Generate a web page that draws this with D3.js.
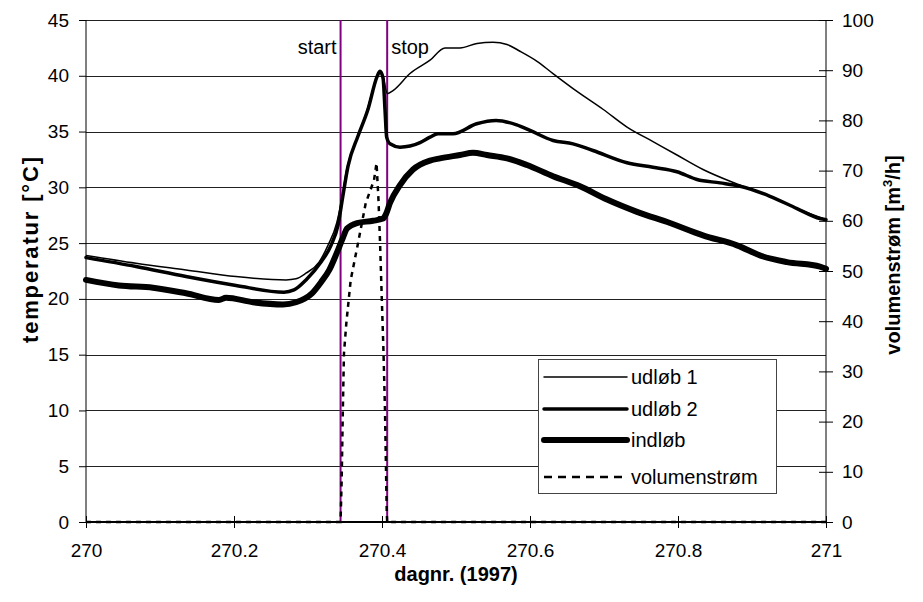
<!DOCTYPE html>
<html>
<head>
<meta charset="utf-8">
<script src="https://cdn.jsdelivr.net/npm/d3@7"></script>
<style>
  body { margin: 0; background: #fff; }
  text { font-family: "Liberation Sans", Arial, sans-serif; fill: #000; }
</style>
</head>
<body>
<div id="chart"></div>
<script>
// dagnr. (fraction of day after 270) and temperatures
var udlob1Day  = [0.000, 0.0676, 0.1351, 0.2027, 0.2703, 0.2838, 0.2973, 0.3149, 0.3270, 0.3388, 0.3455, 0.3523, 0.3658, 0.3793, 0.3928, 0.3973, 0.4018, 0.4072, 0.4153, 0.4378, 0.4649, 0.4851, 0.5054, 0.5284, 0.5500, 0.5689, 0.5865, 0.6095, 0.6311, 0.6635, 0.6986, 0.7311, 0.7662, 0.7986, 0.8338, 0.8797, 0.9243, 0.9608, 1.000];
var udlob1Temp = [23.9, 23.2, 22.6, 22.0, 21.7, 21.8, 22.3, 23.3, 24.8, 26.8, 28.9, 31.6, 34.3, 36.8, 39.8, 40.3, 39.8, 38.4, 38.7, 40.2, 41.4, 42.5, 42.5, 42.9, 43.0, 42.8, 42.2, 41.3, 40.2, 38.6, 37.0, 35.4, 34.1, 32.9, 31.6, 30.3, 29.2, 28.1, 27.1];

var udlob2Day  = [0.000, 0.0676, 0.1351, 0.2027, 0.2676, 0.2811, 0.2973, 0.3176, 0.3311, 0.3405, 0.3473, 0.3541, 0.3676, 0.3811, 0.3932, 0.3973, 0.4014, 0.4041, 0.4063, 0.4108, 0.4243, 0.4378, 0.4514, 0.4649, 0.4757, 0.4959, 0.5279, 0.5541, 0.5820, 0.6000, 0.6311, 0.6581, 0.6851, 0.7311, 0.7662, 0.7986, 0.8257, 0.8568, 0.8838, 0.9243, 0.9608, 0.9919, 1.000];
var udlob2Temp = [23.7, 22.9, 22.0, 21.2, 20.6, 20.8, 21.7, 23.3, 24.8, 26.6, 29.3, 31.9, 34.6, 37.0, 39.9, 40.4, 39.8, 36.9, 34.5, 33.9, 33.6, 33.7, 34.0, 34.5, 34.8, 34.8, 35.7, 36.0, 35.6, 35.1, 34.2, 33.9, 33.3, 32.2, 31.8, 31.4, 30.7, 30.4, 30.1, 29.2, 28.1, 27.2, 27.1];

var indlobDay  = [0.000, 0.0446, 0.0905, 0.1351, 0.1797, 0.1892, 0.2257, 0.2662, 0.2838, 0.3054, 0.3176, 0.3288, 0.3388, 0.3473, 0.3527, 0.3662, 0.3878, 0.4014, 0.4054, 0.4108, 0.4243, 0.4419, 0.4649, 0.4784, 0.5054, 0.5230, 0.5419, 0.5689, 0.5959, 0.6311, 0.6676, 0.7041, 0.7446, 0.7892, 0.8338, 0.8797, 0.9149, 0.9473, 0.9919, 1.000];
var indlobTemp = [21.7, 21.2, 21.0, 20.5, 19.9, 20.1, 19.7, 19.5, 19.7, 20.5, 21.5, 22.6, 24.1, 25.5, 26.3, 26.8, 27.0, 27.2, 27.6, 28.6, 30.2, 31.6, 32.4, 32.6, 32.9, 33.1, 32.9, 32.6, 32.0, 31.0, 30.1, 28.9, 27.8, 26.8, 25.7, 24.8, 23.8, 23.3, 22.9, 22.7];

// volumenstrøm [m3/h]
var flowDay = [0.000, 0.3440, 0.3455, 0.3470, 0.3486, 0.3518, 0.3577, 0.3666, 0.3780, 0.3892, 0.3926, 0.3953, 0.3973, 0.3996, 0.4018, 0.4041, 0.4064, 0.4070, 1.000];
var flowVal = [0, 0, 8.4, 21.7, 33.6, 39.6, 48.2, 54.8, 63.5, 68.1, 71.5, 64.0, 56.0, 45.0, 35.0, 22.0, 2.0, 0, 0];

var startDay = 0.344, stopDay = 0.407;
var xTicks = [270, 270.2, 270.4, 270.6, 270.8, 271];
var tempTicks = [0, 5, 10, 15, 20, 25, 30, 35, 40, 45];
var flowTicks = [0, 10, 20, 30, 40, 50, 60, 70, 80, 90, 100];
var legendNames = ["udløb 1", "udløb 2", "indløb", "volumenstrøm"];

var svg, xScale, yTemp, yFlow;

gen_chart();

function toPoints(days, vals) {
    return days.map(function (d, i) { return { day: 270 + d, v: vals[i] }; });
}

function gen_chart() {
    var w = 923, h = 602;
    var left = 86, right = 826, top = 20, bottom = 522;

    svg = d3.select("#chart").append("svg")
            .attr("width", w)
            .attr("height", h);

    xScale = d3.scaleLinear().domain([270, 271]).range([left, right]);
    yTemp = d3.scaleLinear().domain([0, 45]).range([bottom, top]);
    yFlow = d3.scaleLinear().domain([0, 100]).range([bottom, top]);

    // horizontal gridlines
    svg.append("g").selectAll("line")
        .data(tempTicks.slice(1))
        .enter().append("line")
        .attr("x1", left).attr("x2", right)
        .attr("y1", function (d) { return Math.round(yTemp(d)) + 0.5; })
        .attr("y2", function (d) { return Math.round(yTemp(d)) + 0.5; })
        .attr("stroke", "#222")
        .attr("stroke-width", 1);

    // start / stop markers
    [startDay, stopDay].forEach(function (d) {
        svg.append("line")
            .attr("x1", xScale(270 + d)).attr("x2", xScale(270 + d))
            .attr("y1", top).attr("y2", bottom)
            .attr("stroke", "#800080")
            .attr("stroke-width", 2);
    });
    svg.append("text")
        .attr("x", xScale(270 + startDay) - 4).attr("y", 54)
        .attr("text-anchor", "end")
        .style("font-size", "20px")
        .text("start");
    svg.append("text")
        .attr("x", xScale(270 + stopDay) + 4).attr("y", 54)
        .style("font-size", "20px")
        .text("stop");

    var lineTemp = d3.line()
        .x(function (d) { return xScale(d.day); })
        .y(function (d) { return yTemp(d.v); })
        .curve(d3.curveMonotoneX);
    var lineFlow = d3.line()
        .x(function (d) { return xScale(d.day); })
        .y(function (d) { return yFlow(d.v); });

    svg.append("path")
        .datum(toPoints(flowDay, flowVal))
        .attr("d", lineFlow)
        .attr("fill", "none")
        .attr("stroke", "#000")
        .attr("stroke-width", 2.5)
        .attr("stroke-dasharray", "5,5");

    svg.append("path")
        .datum(toPoints(indlobDay, indlobTemp))
        .attr("d", lineTemp)
        .attr("fill", "none")
        .attr("stroke", "#000")
        .attr("stroke-width", 6)
        .attr("stroke-linejoin", "round")
        .attr("stroke-linecap", "round");

    svg.append("path")
        .datum(toPoints(udlob2Day, udlob2Temp))
        .attr("d", lineTemp)
        .attr("fill", "none")
        .attr("stroke", "#000")
        .attr("stroke-width", 3.5)
        .attr("stroke-linejoin", "round")
        .attr("stroke-linecap", "round");

    svg.append("path")
        .datum(toPoints(udlob1Day, udlob1Temp))
        .attr("d", lineTemp)
        .attr("fill", "none")
        .attr("stroke", "#000")
        .attr("stroke-width", 1.5)
        .attr("stroke-linejoin", "round");

    // axes
    var xAxis = d3.axisBottom(xScale)
        .tickValues(xTicks)
        .tickSize(6)
        .tickFormat(function (d) { return d3.format("")(+d.toFixed(1)); });

    var gx = svg.append("g")
        .attr("transform", "translate(0," + bottom + ")")
        .call(xAxis);
    gx.select(".domain").attr("stroke", "#000").attr("stroke-width", 2);
    gx.selectAll(".tick line").attr("y1", -6).attr("stroke", "#000");
    gx.selectAll(".tick text").attr("y", 22).style("font-size", "19px").attr("font-family", null);

    var gl = svg.append("g")
        .attr("transform", "translate(" + left + ",0)")
        .call(d3.axisLeft(yTemp).tickValues(tempTicks).tickSize(7).tickPadding(10));
    gl.select(".domain").attr("stroke", "#000");
    gl.selectAll(".tick text").style("font-size", "19px").attr("font-family", null);

    var gr = svg.append("g")
        .attr("transform", "translate(" + right + ",0)")
        .call(d3.axisRight(yFlow).tickValues(flowTicks).tickSize(7).tickPadding(9));
    gr.select(".domain").attr("stroke", "#000");
    gr.selectAll(".tick line").attr("x1", -7);
    gr.selectAll(".tick text").style("font-size", "19px").attr("font-family", null);
    gx.selectAll("path.domain").attr("d", "M" + left + ",0H" + right);
    gl.selectAll("path.domain").attr("d", "M0," + top + "V" + bottom);
    gr.selectAll("path.domain").attr("d", "M0," + top + "V" + bottom);

    // axis titles
    svg.append("text")
        .attr("transform", "translate(38,250) rotate(-90)")
        .attr("text-anchor", "middle")
        .attr("textLength", 186)
        .attr("lengthAdjust", "spacing")
        .style("font-size", "22px").style("font-weight", "bold")
        .text("temperatur [°C]");

    var rt = svg.append("text")
        .attr("transform", "translate(900,255) rotate(-90)")
        .attr("text-anchor", "middle")
        .style("font-size", "20px").style("font-weight", "bold");
    rt.append("tspan").text("volumenstrøm [m");
    rt.append("tspan").attr("dy", -8).style("font-size", "13px").text("3");
    rt.append("tspan").attr("dy", 8).text("/h]");

    svg.append("text")
        .attr("x", 456).attr("y", 581)
        .attr("text-anchor", "middle")
        .style("font-size", "20px").style("font-weight", "bold")
        .text("dagnr. (1997)");

    // legend
    var lg = svg.append("g").attr("transform", "translate(538,359)");
    lg.append("rect")
        .attr("x", 0.5).attr("y", 0.5)
        .attr("width", 238).attr("height", 134)
        .attr("fill", "#fff")
        .attr("stroke", "#444");
    var widths = [1.5, 3.5, 6, 2.5];
    var rowY = [18, 50, 81, 118];
    legendNames.forEach(function (name, i) {
        lg.append("line")
            .attr("x1", 6).attr("x2", 89)
            .attr("y1", rowY[i]).attr("y2", rowY[i])
            .attr("stroke", "#000")
            .attr("stroke-width", widths[i])
            .attr("stroke-linecap", i === 3 ? "butt" : "round")
            .attr("stroke-dasharray", i === 3 ? "8,6" : null);
        lg.append("text")
            .attr("x", 93).attr("y", rowY[i] + 7)
            .style("font-size", "20px")
            .text(name);
    });
}
</script>
</body>
</html>
